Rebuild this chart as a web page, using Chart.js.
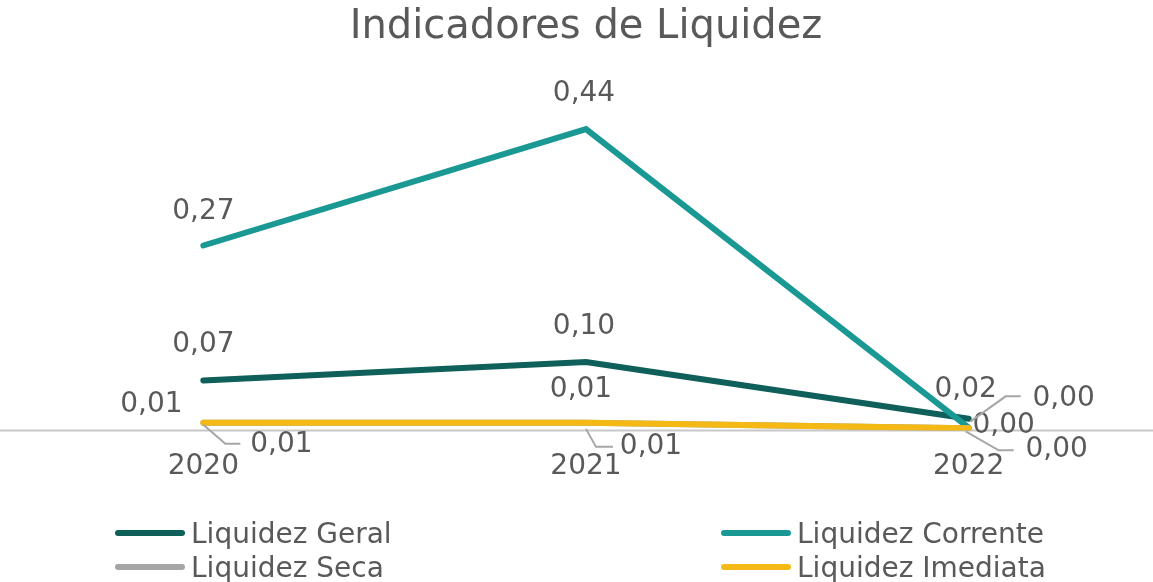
<!DOCTYPE html>
<html>
<head>
<meta charset="utf-8">
<script src="https://cdn.jsdelivr.net/npm/chart.js@4"></script>
<style>
  html, body { margin: 0; padding: 0; width: 1153px; height: 582px; overflow: hidden; background: #fff; }
  #wrap { position: absolute; left: 0; top: 0; width: 1160px; height: 514px; }
  #legend { position: absolute; left: 0; top: 0; width: 1153px; height: 582px; pointer-events: none;
            font-family: "DejaVu Sans", sans-serif; font-size: 28px; color: #595959; }
  .item { position: absolute; display: flex; align-items: center; height: 34px; }
  .swatch { width: 70px; height: 6px; border-radius: 3px; margin-right: 6px; }
</style>
</head>
<body>
<div id="wrap"><canvas id="myChart"></canvas></div>
<div id="legend"></div>
<script>
const years = ['2020', '2021', '2022'];
const liquidezGeral = [0.073, 0.10, 0.017];
const liquidezCorrente = [0.27, 0.44, 0.004];
const liquidezSeca = [0.011, 0.011, 0.003];
const liquidezImediata = [0.011, 0.011, 0.003];

const seriesNames = ['Liquidez Geral', 'Liquidez Corrente', 'Liquidez Seca', 'Liquidez Imediata'];
const colors = ['#0f5f5b', '#1a9893', '#a5a5a5', '#f4b914'];

const textColor = '#595959';
const font = '"DejaVu Sans", sans-serif';

// label placement relative to each point (dx, dy) plus optional leader line
const labelPlace = [
  [{dx: 0, dy: -36}, {dx: -2, dy: -35}, {dx: -3, dy: -29}],
  [{dx: 0, dy: -34}, {dx: -2, dy: -35}, {dx: 35, dy: -2}],
  [{dx: 78, dy: 22, leader: [[0, 2], [22, 21], [37, 21]]},
   {dx: 65, dy: 24, leader: [[0, 6], [10, 24], [27, 24]]},
   {dx: 88, dy: 21, leader: [[-3, 3], [30, 22], [45, 22]]}],
  [{dx: -52, dy: -18}, {dx: -5, dy: -33},
   {dx: 95, dy: -30, leader: [[2, -7], [37, -32], [52, -32]]}]
];

const axisLine = {
  id: 'axisLine',
  beforeDatasetsDraw(chart) {
    const c = chart.ctx;
    const y = chart.scales.y.getPixelForValue(0);
    c.save();
    c.strokeStyle = '#c8c8c8';
    c.lineWidth = 2;
    c.beginPath();
    c.moveTo(0, y);
    c.lineTo(1153, y);
    c.stroke();
    c.restore();
  }
};

const pointLabels = {
  id: 'pointLabels',
  afterDatasetsDraw(chart) {
    const c = chart.ctx;
    c.save();
    chart.data.datasets.forEach((ds, i) => {
      const meta = chart.getDatasetMeta(i);
      meta.data.forEach((pt, j) => {
        const p = labelPlace[i][j];
        if (p.leader) {
          c.strokeStyle = '#a6a6a6';
          c.lineWidth = 2;
          c.beginPath();
          p.leader.forEach((q, k) => {
            if (k === 0) c.moveTo(pt.x + q[0], pt.y + q[1]);
            else c.lineTo(pt.x + q[0], pt.y + q[1]);
          });
          c.stroke();
        }
        c.fillStyle = textColor;
        c.font = '28px ' + font;
        c.textAlign = 'center';
        c.textBaseline = 'middle';
        c.fillText(ds.data[j].toFixed(2).replace('.', ','), pt.x + p.dx, pt.y + p.dy);
      });
    });
    c.restore();
  }
};

const allSeries = [liquidezGeral, liquidezCorrente, liquidezSeca, liquidezImediata];
const drawOrder = [4, 3, 2, 1];

const ctx = document.getElementById('myChart');

new Chart(ctx, {
  type: 'line',
  data: {
    labels: years,
    datasets: allSeries.map((d, i) => ({
      label: seriesNames[i],
      data: d,
      borderColor: colors[i],
      backgroundColor: colors[i],
      borderWidth: 6,
      borderCapStyle: 'round',
      borderJoinStyle: 'miter',
      pointRadius: 0,
      tension: 0,
      order: drawOrder[i]
    }))
  },
  options: {
    responsive: true,
    maintainAspectRatio: false,
    animation: false,
    layout: { padding: { left: 12, right: 0, top: 0, bottom: 10 } },
    plugins: {
      legend: { display: false },
      tooltip: { enabled: false },
      title: {
        display: true,
        text: 'Indicadores de Liquidez',
        color: textColor,
        font: { family: font, size: 40, weight: 'normal' },
        padding: { top: 4, bottom: 36 }
      }
    },
    scales: {
      x: {
        offset: true,
        grid: { display: false, drawTicks: false },
        border: { display: false },
        ticks: { color: textColor, font: { family: font, size: 28 }, padding: 20 }
      },
      y: {
        display: false,
        min: 0,
        max: 0.5
      }
    }
  },
  plugins: [axisLine, pointLabels]
});

// legend in two columns
const legendPos = [[115, 516], [721, 516], [115, 550], [721, 550]];
const leg = document.getElementById('legend');
seriesNames.forEach((name, i) => {
  const it = document.createElement('div');
  it.className = 'item';
  it.style.left = legendPos[i][0] + 'px';
  it.style.top = legendPos[i][1] + 'px';
  const sw = document.createElement('div');
  sw.className = 'swatch';
  sw.style.background = colors[i];
  const tx = document.createElement('span');
  tx.textContent = name;
  it.appendChild(sw);
  it.appendChild(tx);
  leg.appendChild(it);
});
</script>
</body>
</html>
